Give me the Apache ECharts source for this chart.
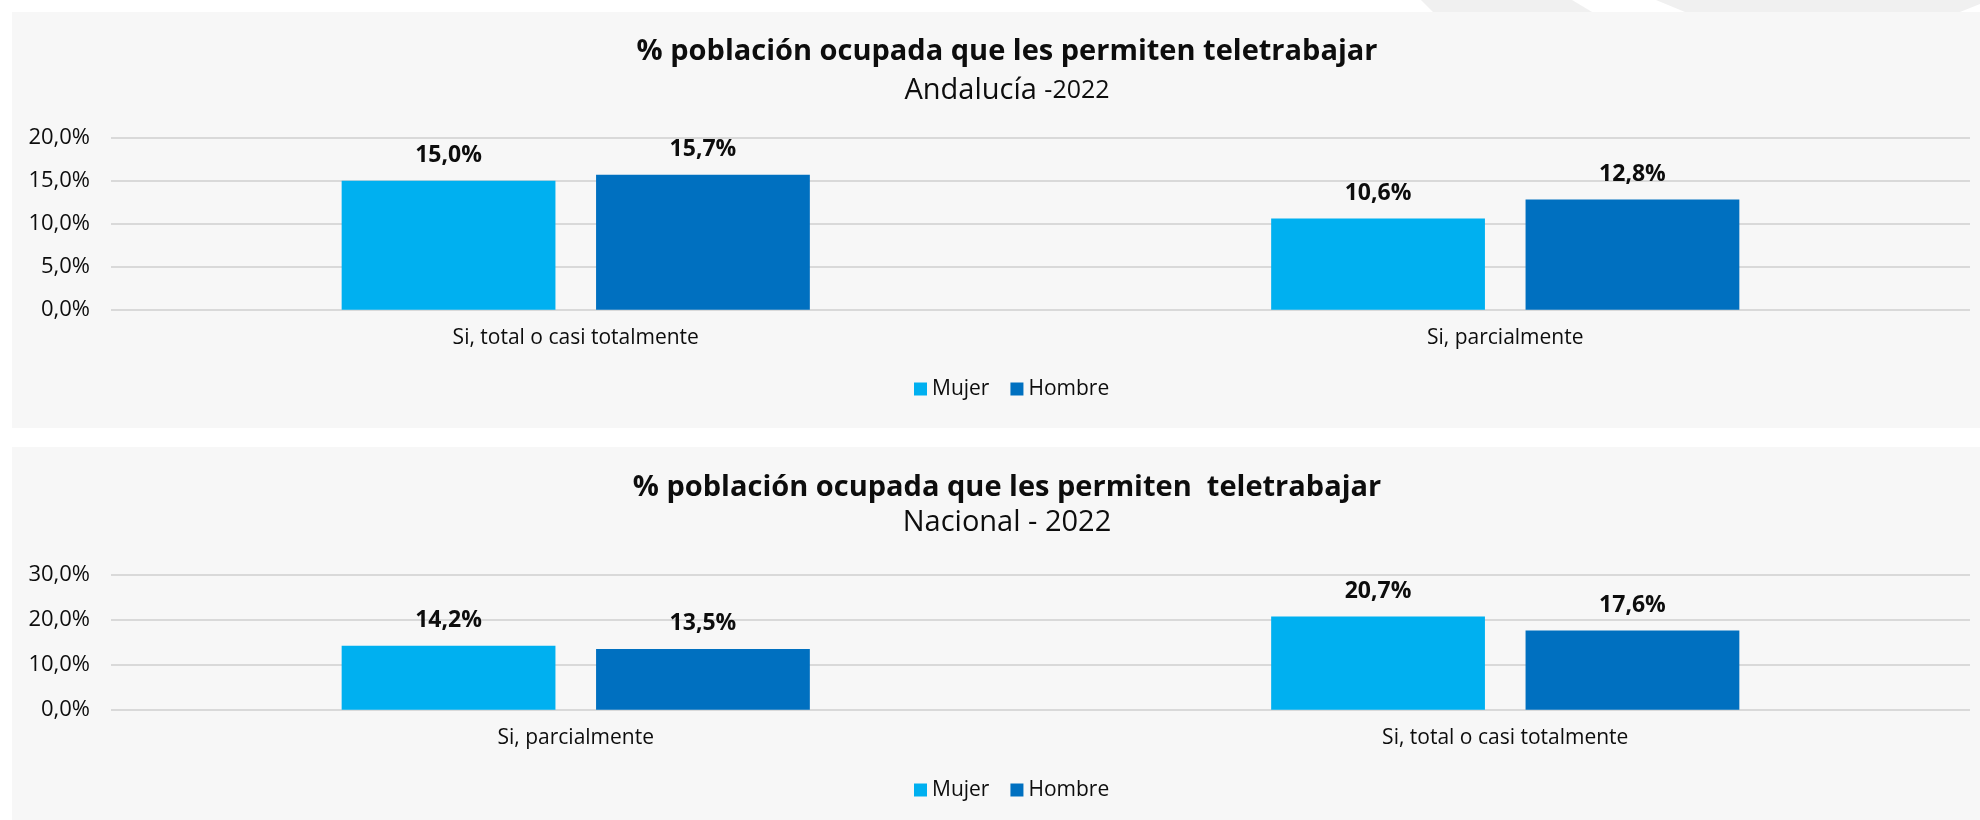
<!DOCTYPE html>
<html>
<head>
<meta charset="utf-8">
<title>Teletrabajo 2022</title>
<script src="https://cdn.jsdelivr.net/npm/echarts@6/dist/echarts.min.js"></script>
<style>
  html, body { margin: 0; padding: 0; background: #ffffff; }
  #chart { width: 1980px; height: 820px; }
</style>
</head>
<body>
<div id="chart"></div>
<script>
// ---- Data ----
const seriesNames = ['Mujer', 'Hombre'];

// Andalucía 2022
const andaluciaCategories = ['Si, total o casi totalmente', 'Si, parcialmente'];
const andaluciaMujer = [15.0, 10.6];
const andaluciaHombre = [15.7, 12.8];

// Nacional 2022
const nacionalCategories = ['Si, parcialmente', 'Si, total o casi totalmente'];
const nacionalMujer = [14.2, 20.7];
const nacionalHombre = [13.5, 17.6];

const andaluciaTicks = { min: 0, max: 20, interval: 5 };
const nacionalTicks = { min: 0, max: 30, interval: 10 };

const titleText = '% población ocupada que les permiten teletrabajar';
const titleText2 = '% población ocupada que les permiten  teletrabajar';

// ---- Styling ----
const FONT = '"Open Sans", "Noto Sans", sans-serif';
const TEXT = '#0d0d0d';
const MUJER = '#00B0F0';
const HOMBRE = '#0070C0';
const GRID = '#d9d9d9';

const pct = v => v.toFixed(1).replace('.', ',') + '%';

function barSeries(name, data, idx, color) {
  return {
    name: name,
    type: 'bar',
    xAxisIndex: idx,
    yAxisIndex: idx,
    data: data,
    barWidth: '23%',
    barGap: '19%',
    itemStyle: { color: color },
    label: {
      show: true,
      position: 'top',
      distance: 13,
      formatter: p => pct(p.value),
      fontFamily: FONT,
      fontWeight: 'bold',
      fontSize: 23,
      lineHeight: 24,
      color: TEXT
    }
  };
}

function xAxis(idx, cats) {
  return {
    type: 'category',
    gridIndex: idx,
    data: cats,
    axisLine: { show: false },
    axisTick: { show: false },
    axisLabel: { margin: 18, fontFamily: FONT, fontSize: 21, color: TEXT }
  };
}

function yAxis(idx, t) {
  return {
    type: 'value',
    gridIndex: idx,
    min: t.min, max: t.max, interval: t.interval,
    axisLine: { show: false },
    axisTick: { show: false },
    splitLine: { lineStyle: { color: GRID, width: 2 } },
    axisLabel: { margin: 21, formatter: pct, fontFamily: FONT, fontSize: 22, color: TEXT }
  };
}

function legend(top) {
  return {
    data: seriesNames,
    left: 914,
    top: top,
    padding: 0,
    icon: 'rect',
    itemWidth: 13,
    itemHeight: 13,
    itemGap: 21,
    selectedMode: false,
    textStyle: { fontFamily: FONT, fontSize: 21, lineHeight: 24, color: TEXT }
  };
}

const subStyle = { fontFamily: FONT, fontWeight: 'normal', color: TEXT };

const chart = echarts.init(document.getElementById('chart'), null, { renderer: 'canvas' });

chart.setOption({
  animation: false,
  backgroundColor: '#ffffff',
  color: [MUJER, HOMBRE],
  graphic: [
    // header decoration
    { type: 'polygon', z: -10, silent: true,
      shape: { points: [[1421, 0], [1572, 0], [1592, 12], [1433, 12]] },
      style: { fill: '#f0f0f0' } },
    { type: 'polygon', z: -10, silent: true,
      shape: { points: [[1656, 0], [1980, 0], [1980, 4], [1960, 12], [1685, 12]] },
      style: { fill: '#f0f0f0' } },
    // panel backgrounds
    { type: 'rect', z: -10, silent: true,
      shape: { x: 12, y: 12, width: 1968, height: 416 },
      style: { fill: '#f7f7f7' } },
    { type: 'rect', z: -10, silent: true,
      shape: { x: 12, y: 447, width: 1968, height: 373 },
      style: { fill: '#f7f7f7' } }
  ],
  title: [
    { text: titleText, left: 1007, textAlign: 'center', top: 36, padding: 0,
      textStyle: { fontFamily: FONT, fontWeight: 'bold', fontSize: 29, lineHeight: 32, color: TEXT } },
    { text: '{a|Andalucía }{b|-2022}', left: 1007, textAlign: 'center', top: 76, padding: 0,
      textStyle: Object.assign({ fontSize: 29, lineHeight: 30,
        rich: { a: Object.assign({ fontSize: 29, lineHeight: 30 }, subStyle),
                b: Object.assign({ fontSize: 25, lineHeight: 30 }, subStyle) } }, subStyle) },
    { text: titleText2, left: 1007, textAlign: 'center', top: 472, padding: 0,
      textStyle: { fontFamily: FONT, fontWeight: 'bold', fontSize: 29, lineHeight: 32, color: TEXT } },
    { text: 'Nacional - 2022', left: 1007, textAlign: 'center', top: 508, padding: 0,
      textStyle: Object.assign({ fontSize: 29, lineHeight: 30 }, subStyle) }
  ],
  legend: [legend(377), legend(778)],
  grid: [
    { left: 111, right: 10, top: 137.7, height: 172 },
    { left: 111, right: 10, top: 574.7, height: 135 }
  ],
  xAxis: [xAxis(0, andaluciaCategories), xAxis(1, nacionalCategories)],
  yAxis: [yAxis(0, andaluciaTicks), yAxis(1, nacionalTicks)],
  series: [
    barSeries('Mujer', andaluciaMujer, 0, MUJER),
    barSeries('Hombre', andaluciaHombre, 0, HOMBRE),
    barSeries('Mujer', nacionalMujer, 1, MUJER),
    barSeries('Hombre', nacionalHombre, 1, HOMBRE)
  ]
});
</script>
</body>
</html>
